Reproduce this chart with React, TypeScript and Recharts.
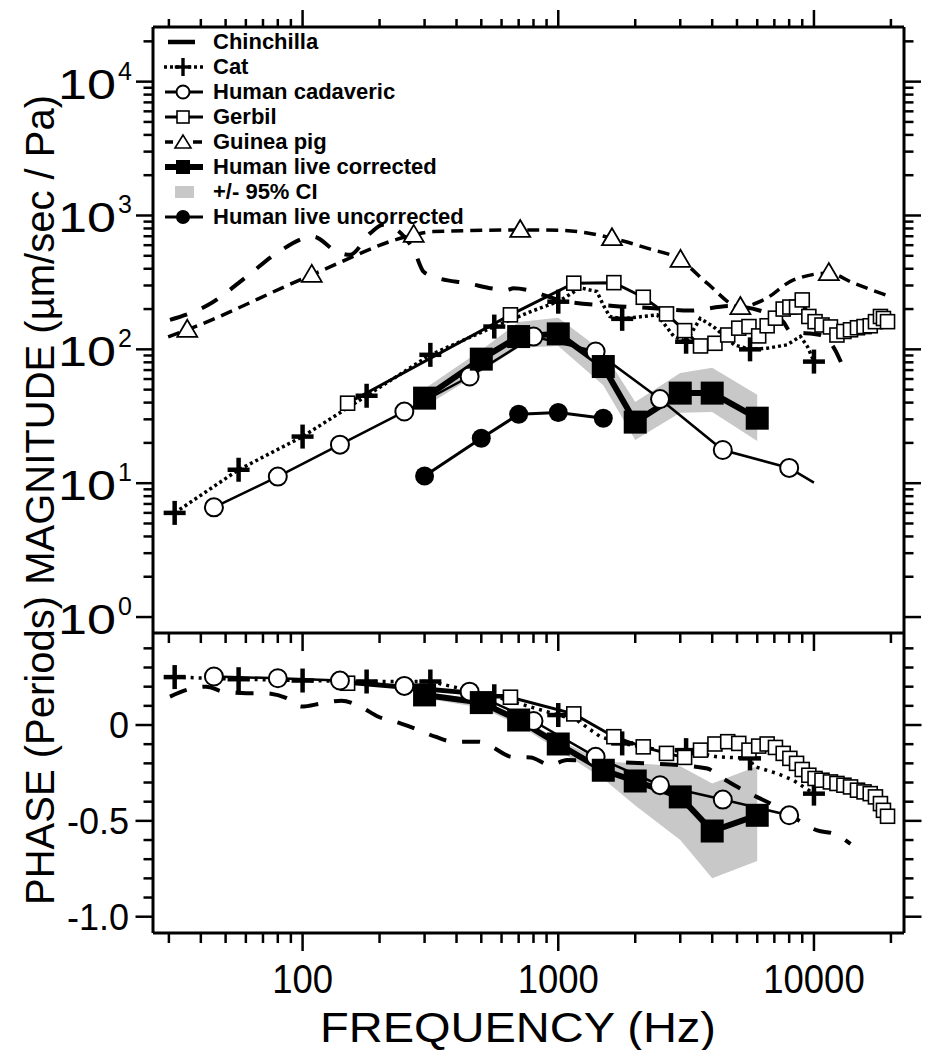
import React from 'react';
import { ComposedChart, Line, Area, XAxis, YAxis, Legend } from 'recharts';

const FONT = 'Arial, "Liberation Sans", Helvetica, sans-serif';
const GRAY = '#c8c8c8';

const X_DOMAIN = [26, 22500];
const MAG_DOMAIN = [0.76, 25600];
const PHASE_DOMAIN = [-1.085, 0.48];

// ---- ticks ----
const xTicks = [30, 40, 50, 60, 70, 80, 90, 100, 200, 300, 400, 500, 600, 700, 800, 900, 1000, 2000, 3000, 4000, 5000, 6000, 7000, 8000, 9000, 10000, 20000];
const xMajor = [100, 1000, 10000];
const xMajorText = ['100', '1000', '10000'];
const magTicks = [1, 2, 3, 4, 5, 6, 7, 8, 9, 10, 20, 30, 40, 50, 60, 70, 80, 90, 100, 200, 300, 400, 500, 600, 700, 800, 900, 1000, 2000, 3000, 4000, 5000, 6000, 7000, 8000, 9000, 10000, 20000];
const magMajor = [1, 10, 100, 1000, 10000];
const magMajorExp = ['0', '1', '2', '3', '4'];
const phaseTicks = [-1.0, -0.9, -0.8, -0.7, -0.6, -0.5, -0.4, -0.3, -0.2, -0.1, 0, 0.1, 0.2, 0.3, 0.4];
const phaseMajor = [-1.0, -0.5, 0];
const phaseMajorText = ['-1.0', '-0.5', '0'];

// ---- legend ----
const legendLabels = ['Chinchilla', 'Cat', 'Human cadaveric', 'Gerbil', 'Guinea pig', 'Human live corrected', '+/- 95% CI', 'Human live uncorrected'];

// ---- Chinchilla ----
const chinTopFreq = [30.3, 42.8, 60.5, 79.2, 110, 136, 153, 184, 207, 272, 297, 325, 439, 630, 668, 1082, 1645, 2370, 3272, 4700, 6350, 7580, 8080, 10600, 12100, 12800];
const chinTopMag = [166, 215, 350, 523, 695, 537, 508, 738, 851, 553, 381, 350, 312, 278, 286, 227, 211, 203, 195, 211, 191, 161, 136, 128, 99, 79];
const chinBotFreq = [30.3, 35.2, 42, 49, 60.5, 71, 86.7, 99, 120, 142, 168, 198, 237, 280, 330, 390, 488, 550, 660, 780, 930, 1082, 1500, 2200, 3000, 3830, 4300, 5300, 5970, 7190, 8300, 10300, 11950, 13900];
const chinBotPhase = [0.148, 0.183, 0.2, 0.174, 0.166, 0.166, 0.14, 0.096, 0.114, 0.127, 0.096, 0.043, 0.012, -0.023, -0.061, -0.087, -0.087, -0.114, -0.166, -0.169, -0.209, -0.183, -0.19, -0.2, -0.21, -0.227, -0.27, -0.34, -0.375, -0.428, -0.48, -0.55, -0.567, -0.62];

// ---- Cat ----
const catTopFreq = [31.6, 56.2, 100, 178, 316, 562, 800, 1000, 1220, 1416, 1510, 1590, 1778, 1970, 2440, 2830, 3162, 3590, 4040, 4880, 5623, 6570, 7850, 8850, 9430, 10000];
const catTopMag = [6.0, 12.6, 22.3, 45, 91, 148, 195, 227, 288, 270, 209, 176, 169, 173, 181, 125, 114, 170, 148, 108, 100, 102, 108, 125, 105, 81];
const catBotFreq = [31.6, 56.2, 100, 178, 316, 562, 1000, 1180, 1460, 1778, 2500, 3162, 4170, 5623, 5800, 7190, 8300, 10000];
const catBotPhase = [0.25, 0.239, 0.232, 0.227, 0.227, 0.15, 0.052, 0.026, -0.061, -0.096, -0.131, -0.131, -0.166, -0.174, -0.215, -0.253, -0.288, -0.358];
const catMarkFreq = [31.6, 56.2, 100, 178, 316, 562, 1000, 1778, 3162, 5623, 10000];

// ---- Human cadaveric ----
const cadTopFreq = [45, 80, 140, 250, 450, 800, 1400, 2500, 4400, 8000, 10000];
const cadTopMag = [6.6, 11.2, 19.4, 34.3, 62.7, 124.6, 96.4, 42.5, 17.7, 13.0, 10.1];
const cadBotFreq = [45, 80, 140, 250, 450, 800, 1400, 2500, 4400, 8000];
const cadBotPhase = [0.253, 0.244, 0.232, 0.204, 0.174, 0.021, -0.166, -0.314, -0.389, -0.471];
const cadMarkFreq = [45, 80, 140, 250, 450, 800, 1400, 2500, 4400, 8000];

// ---- Gerbil ----
const gerbilFreq = [150, 650, 1150, 1650, 2150, 2650, 3120, 3600, 4100, 4600, 5080, 5570, 6080, 6560, 7070, 7580, 8050, 8550, 9000, 9550, 10100, 10750, 11600, 12300, 13100, 13900, 14800, 15700, 16600, 17400, 18200, 18700, 19400];
const gerbilMag = [39.6, 181, 312, 315, 245, 184, 138, 106, 111, 128, 144, 148, 126, 150, 171, 200, 207, 207, 234, 176, 161, 152, 147, 128, 136, 140, 145, 148, 150, 161, 176, 170, 161];
const gerbilPhase = [0.218, 0.145, 0.058, -0.061, -0.114, -0.148, -0.169, -0.131, -0.099, -0.087, -0.096, -0.131, -0.11, -0.099, -0.117, -0.148, -0.174, -0.2, -0.232, -0.262, -0.279, -0.288, -0.297, -0.305, -0.314, -0.323, -0.34, -0.349, -0.358, -0.375, -0.41, -0.445, -0.476];

// ---- Guinea pig ----
const guineaFreq = [29.8, 35.4, 108.6, 272, 324, 710, 1000, 1300, 1622, 2224, 3006, 3820, 5156, 6350, 8320, 11430, 14300, 19900];
const guineaMag = [124, 140, 360, 716, 758, 780, 775, 740, 677, 570, 466, 312, 207, 234, 330, 371, 312, 248];
const guineaMarkFreq = [35.4, 108.6, 272, 710, 1622, 3006, 5156, 11430];

// ---- Human live corrected + CI ----
const corrFreq = [300, 500, 700, 1000, 1500, 2000, 3000, 4000, 6000];
const corrMag = [43.2, 84.5, 124.6, 130.5, 74.4, 28.6, 47.1, 47.1, 30.6];
const corrPhase = [0.157, 0.117, 0.026, -0.099, -0.236, -0.292, -0.375, -0.553, -0.471];
const ciMagLo = [37.2, 68, 103, 106, 54, 21, 33.6, 34, 20.7];
const ciMagHi = [50.7, 99, 160, 172, 96, 40.5, 66.7, 72.8, 45.7];
const ciPhaseLo = [0.14, 0.09, 0.0, -0.13, -0.28, -0.42, -0.6, -0.8, -0.71];
const ciPhaseHi = [0.175, 0.13, 0.045, -0.075, -0.19, -0.2, -0.215, -0.305, -0.215];

// ---- Human live uncorrected ----
const uncFreq = [300, 500, 700, 1000, 1500];
const uncMag = [11.3, 21.7, 32.7, 33.7, 30.6];

// ---- helpers ----
const pts = (fs: number[], vs: number[]) => fs.map((f, i) => ({ f, v: vs[i] }));
const band = (fs: number[], lo: number[], hi: number[]) => fs.map((f, i) => ({ f, lo: lo[i], hi: hi[i] }));

type Shape = 'plus' | 'ocircle' | 'osquare' | 'otri' | 'fsquare' | 'fcircle';

const Marker = ({ shape, cx, cy, s = 1 }: { shape: Shape; cx: number; cy: number; s?: number }) => {
  switch (shape) {
    case 'plus':
      return (
        <g stroke="#000" strokeWidth={4.5 * s}>
          <line x1={cx - 11 * s} x2={cx + 11 * s} y1={cy} y2={cy} />
          <line x1={cx} x2={cx} y1={cy - 12 * s} y2={cy + 12 * s} />
        </g>
      );
    case 'ocircle':
      return <circle cx={cx} cy={cy} r={9 * s} fill="#fff" stroke="#000" strokeWidth={2} />;
    case 'fcircle':
      return <circle cx={cx} cy={cy} r={9.5 * s} fill="#000" />;
    case 'osquare':
      return <rect x={cx - 7 * s} y={cy - 7 * s} width={14 * s} height={14 * s} fill="#fff" stroke="#000" strokeWidth={1.6} />;
    case 'fsquare':
      return <rect x={cx - 11.5 * s} y={cy - 11.5 * s} width={23 * s} height={23 * s} fill="#000" />;
    case 'otri':
      return <polygon points={`${cx},${cy - 10 * s} ${cx - 10 * s},${cy + 7 * s} ${cx + 10 * s},${cy + 7 * s}`} fill="#fff" stroke="#000" strokeWidth={1.8} />;
    default:
      return null;
  }
};

const makeDot = (shape: Shape, marks?: number[]) => (p: any) => {
  const { cx, cy, payload, index } = p;
  if (cx == null || cy == null || (marks && !marks.includes(payload.f))) return <g key={`e${index}`} />;
  return (
    <g key={`m${index}`}>
      <Marker shape={shape} cx={cx} cy={cy} />
    </g>
  );
};

// ---- ticks ----
const XTick = (props: any) => {
  const { x, y, payload, dir, minorLen, majorLen, labels } = props;
  const v = payload.value;
  const mi = xMajor.indexOf(v);
  const len = mi >= 0 ? majorLen : minorLen;
  const txt = mi >= 0 ? xMajorText[mi] : '';
  return (
    <g>
      <line x1={x} x2={x} y1={y} y2={y + dir * len} stroke="#000" strokeWidth={2.5} />
      {labels && mi >= 0 && (
        <text x={x} y={y + 60} textAnchor="middle" fontSize={40} fontFamily={FONT} fill="#000" textLength={txt.length * 20.3} lengthAdjust="spacingAndGlyphs">
          {txt}
        </text>
      )}
    </g>
  );
};

const MagTick = (props: any) => {
  const { x, y, payload, side } = props;
  const v = payload.value;
  const mi = magMajor.indexOf(v);
  const major = mi >= 0;
  const dir = side === 'left' ? -1 : 1;
  const len = major ? 17 : 9.5;
  return (
    <g>
      <line x1={x} x2={x + dir * len} y1={y} y2={y} stroke="#000" strokeWidth={2.5} />
      {side === 'left' && major && (
        <g fontFamily={FONT} fill="#000">
          <text x={116} y={y + 17} textAnchor="end" fontSize={43} textLength={58} lengthAdjust="spacingAndGlyphs">10</text>
          <text x={118} y={y - 2} textAnchor="start" fontSize={25}>{magMajorExp[mi]}</text>
        </g>
      )}
    </g>
  );
};

const PhaseTick = (props: any) => {
  const { x, y, payload, side } = props;
  const v = payload.value;
  const mi = phaseMajor.findIndex((m) => Math.abs(m - v) < 1e-6);
  const major = mi >= 0;
  const dir = side === 'left' ? -1 : 1;
  const len = major ? 17.5 : 9.5;
  return (
    <g>
      <line x1={x} x2={x + dir * len} y1={y} y2={y} stroke="#000" strokeWidth={2.5} />
      {side === 'left' && major && (
        <text x={129} y={y + 13} textAnchor="end" fontSize={36} fontFamily={FONT} fill="#000">
          {phaseMajorText[mi]}
        </text>
      )}
    </g>
  );
};

const YTitle = () => (
  <text
    transform="translate(54, 500) rotate(-90)"
    textAnchor="middle"
    fontSize={40}
    fontFamily={FONT}
    fill="#000"
    textLength={810}
    lengthAdjust="spacingAndGlyphs"
  >
    PHASE (Periods) MAGNITUDE (µm/sec / Pa)
  </text>
);

const XTitle = () => (
  <text x={518} y={409} textAnchor="middle" fontSize={42} fontFamily={FONT} fill="#000" textLength={396} lengthAdjust="spacingAndGlyphs">
    FREQUENCY (Hz)
  </text>
);

const legendSymbol = (i: number) => {
  const cy = 12;
  const cx = 23;
  switch (i) {
    case 0:
      return <line x1={8} x2={35} y1={cy} y2={cy} stroke="#000" strokeWidth={4.5} />;
    case 1:
      return (
        <g>
          <line x1={4} x2={43} y1={cy} y2={cy} stroke="#000" strokeWidth={3.5} strokeDasharray="3 3" />
          <Marker shape="plus" cx={cx} cy={cy} s={0.75} />
        </g>
      );
    case 2:
      return (
        <g>
          <line x1={5} x2={43} y1={cy} y2={cy} stroke="#000" strokeWidth={3} />
          <circle cx={cx} cy={cy} r={6.5} fill="#fff" stroke="#000" strokeWidth={2} />
        </g>
      );
    case 3:
      return (
        <g>
          <line x1={5} x2={43} y1={cy} y2={cy} stroke="#000" strokeWidth={3} />
          <rect x={cx - 6} y={cy - 6} width={12} height={12} fill="#fff" stroke="#000" strokeWidth={1.6} />
        </g>
      );
    case 4:
      return (
        <g>
          <line x1={5} x2={13} y1={cy} y2={cy} stroke="#000" strokeWidth={3.5} />
          <line x1={33} x2={42} y1={cy} y2={cy} stroke="#000" strokeWidth={3.5} />
          <polygon points={`${cx},${cy - 7} ${cx - 8},${cy + 6} ${cx + 8},${cy + 6}`} fill="#fff" stroke="#000" strokeWidth={1.6} />
        </g>
      );
    case 5:
      return (
        <g>
          <line x1={5} x2={43} y1={cy} y2={cy} stroke="#000" strokeWidth={6} />
          <rect x={cx - 7} y={cy - 7} width={14} height={14} fill="#000" />
        </g>
      );
    case 6:
      return <rect x={15} y={cy - 6} width={19} height={12} fill={GRAY} />;
    default:
      return (
        <g>
          <line x1={5} x2={43} y1={cy} y2={cy} stroke="#000" strokeWidth={3} />
          <circle cx={cx} cy={cy} r={7} fill="#000" />
        </g>
      );
  }
};

const LegendBox = () => (
  <div style={{ fontFamily: FONT, fontWeight: 700, fontSize: 22, color: '#000' }}>
    {legendLabels.map((name, i) => (
      <div key={name} style={{ display: 'flex', alignItems: 'center', height: 24.9 }}>
        <svg width={48} height={24} style={{ display: 'block' }}>
          {legendSymbol(i)}
        </svg>
        <span style={{ marginLeft: 5, whiteSpace: 'nowrap', lineHeight: '24px' }}>{name}</span>
      </div>
    ))}
  </div>
);

const frame = { stroke: '#000', strokeWidth: 3 };

export default function App() {
  const chinTop = pts(chinTopFreq, chinTopMag);
  const chinBot = pts(chinBotFreq, chinBotPhase);
  const catTop = pts(catTopFreq, catTopMag);
  const catBot = pts(catBotFreq, catBotPhase);
  const cadTop = pts(cadTopFreq, cadTopMag);
  const cadBot = pts(cadBotFreq, cadBotPhase);
  const gerTop = pts(gerbilFreq, gerbilMag);
  const gerBot = pts(gerbilFreq, gerbilPhase);
  const gpTop = pts(guineaFreq, guineaMag);
  const corrTop = pts(corrFreq, corrMag);
  const corrBot = pts(corrFreq, corrPhase);
  const ciTop = band(corrFreq, ciMagLo, ciMagHi);
  const ciBot = band(corrFreq, ciPhaseLo, ciPhaseHi);
  const uncTop = pts(uncFreq, uncMag);

  const xCommon = {
    type: 'number' as const,
    dataKey: 'f',
    scale: 'log' as const,
    domain: X_DOMAIN,
    allowDataOverflow: true,
    ticks: xTicks,
    interval: 0 as const,
    tickSize: 0,
    tickMargin: 0,
    tickLine: false,
    axisLine: frame,
  };

  return (
    <div style={{ position: 'absolute', left: 0, top: 0, width: 927, height: 1050, background: '#fff' }}>
      <div style={{ position: 'absolute', left: 0, top: 0 }}>
        <ComposedChart width={927} height={1050} margin={{ top: 0, right: 0, bottom: 0, left: 0 }}>
          <XAxis xAxisId="t" orientation="top" height={27} {...xCommon} tick={<XTick dir={-1} minorLen={8} majorLen={17} />} />
          <XAxis xAxisId="b" orientation="bottom" height={417} {...xCommon} tick={<XTick dir={1} minorLen={10} majorLen={18} />} />
          <YAxis
            yAxisId="l"
            orientation="left"
            type="number"
            scale="log"
            domain={MAG_DOMAIN}
            allowDataOverflow
            ticks={magTicks}
            interval={0}
            width={153}
            tickSize={0}
            tickMargin={0}
            tickLine={false}
            axisLine={frame}
            tick={<MagTick side="left" />}
            label={<YTitle />}
          />
          <YAxis
            yAxisId="r"
            orientation="right"
            type="number"
            scale="log"
            domain={MAG_DOMAIN}
            allowDataOverflow
            ticks={magTicks}
            interval={0}
            width={23}
            tickSize={0}
            tickMargin={0}
            tickLine={false}
            axisLine={frame}
            tick={<MagTick side="right" />}
          />
          <Legend
            layout="vertical"
            align="center"
            verticalAlign="middle"
            wrapperStyle={{ left: 160, top: 30, width: 'auto' }}
            content={<LegendBox />}
          />
          <Area xAxisId="b" yAxisId="l" data={ciTop} dataKey={(d: any) => [d.lo, d.hi]} type="linear" stroke="none" fill={GRAY} fillOpacity={1} isAnimationActive={false} />
          <Line xAxisId="b" yAxisId="l" data={gpTop} dataKey="v" type="monotone" stroke="#000" strokeWidth={3.5} strokeDasharray="12 7" dot={makeDot('otri', guineaMarkFreq)} isAnimationActive={false} />
          <Line xAxisId="b" yAxisId="l" data={chinTop} dataKey="v" type="monotone" stroke="#000" strokeWidth={4} strokeDasharray="18 16" dot={false} isAnimationActive={false} />
          <Line xAxisId="b" yAxisId="l" data={catTop} dataKey="v" type="linear" stroke="#000" strokeWidth={3.5} strokeDasharray="3 3" dot={makeDot('plus', catMarkFreq)} isAnimationActive={false} />
          <Line xAxisId="b" yAxisId="l" data={gerTop} dataKey="v" type="linear" stroke="#000" strokeWidth={3} dot={makeDot('osquare')} isAnimationActive={false} />
          <Line xAxisId="b" yAxisId="l" data={cadTop} dataKey="v" type="linear" stroke="#000" strokeWidth={2.5} dot={makeDot('ocircle', cadMarkFreq)} isAnimationActive={false} />
          <Line xAxisId="b" yAxisId="l" data={uncTop} dataKey="v" type="linear" stroke="#000" strokeWidth={3} dot={makeDot('fcircle')} isAnimationActive={false} />
          <Line xAxisId="b" yAxisId="l" data={corrTop} dataKey="v" type="linear" stroke="#000" strokeWidth={6} dot={makeDot('fsquare')} isAnimationActive={false} />
        </ComposedChart>
      </div>
      <div style={{ position: 'absolute', left: 0, top: 633 }}>
        <ComposedChart width={927} height={417} margin={{ top: 0, right: 0, bottom: 0, left: 0 }}>
          <XAxis xAxisId="b" orientation="bottom" height={117} {...xCommon} tick={<XTick dir={1} minorLen={10} majorLen={18} labels />} label={<XTitle />} />
          <YAxis
            yAxisId="l"
            orientation="left"
            type="number"
            domain={PHASE_DOMAIN}
            allowDataOverflow
            ticks={phaseTicks}
            interval={0}
            width={153}
            tickSize={0}
            tickMargin={0}
            tickLine={false}
            axisLine={frame}
            tick={<PhaseTick side="left" />}
          />
          <YAxis
            yAxisId="r"
            orientation="right"
            type="number"
            domain={PHASE_DOMAIN}
            allowDataOverflow
            ticks={phaseTicks}
            interval={0}
            width={23}
            tickSize={0}
            tickMargin={0}
            tickLine={false}
            axisLine={frame}
            tick={<PhaseTick side="right" />}
          />
          <Area xAxisId="b" yAxisId="l" data={ciBot} dataKey={(d: any) => [d.lo, d.hi]} type="linear" stroke="none" fill={GRAY} fillOpacity={1} isAnimationActive={false} />
          <Line xAxisId="b" yAxisId="l" data={chinBot} dataKey="v" type="monotone" stroke="#000" strokeWidth={4} strokeDasharray="18 16" dot={false} isAnimationActive={false} />
          <Line xAxisId="b" yAxisId="l" data={catBot} dataKey="v" type="linear" stroke="#000" strokeWidth={3.5} strokeDasharray="3 5" dot={makeDot('plus', catMarkFreq)} isAnimationActive={false} />
          <Line xAxisId="b" yAxisId="l" data={gerBot} dataKey="v" type="linear" stroke="#000" strokeWidth={3} dot={makeDot('osquare')} isAnimationActive={false} />
          <Line xAxisId="b" yAxisId="l" data={cadBot} dataKey="v" type="linear" stroke="#000" strokeWidth={2.5} dot={makeDot('ocircle', cadMarkFreq)} isAnimationActive={false} />
          <Line xAxisId="b" yAxisId="l" data={corrBot} dataKey="v" type="linear" stroke="#000" strokeWidth={6} dot={makeDot('fsquare')} isAnimationActive={false} />
        </ComposedChart>
      </div>
    </div>
  );
}
